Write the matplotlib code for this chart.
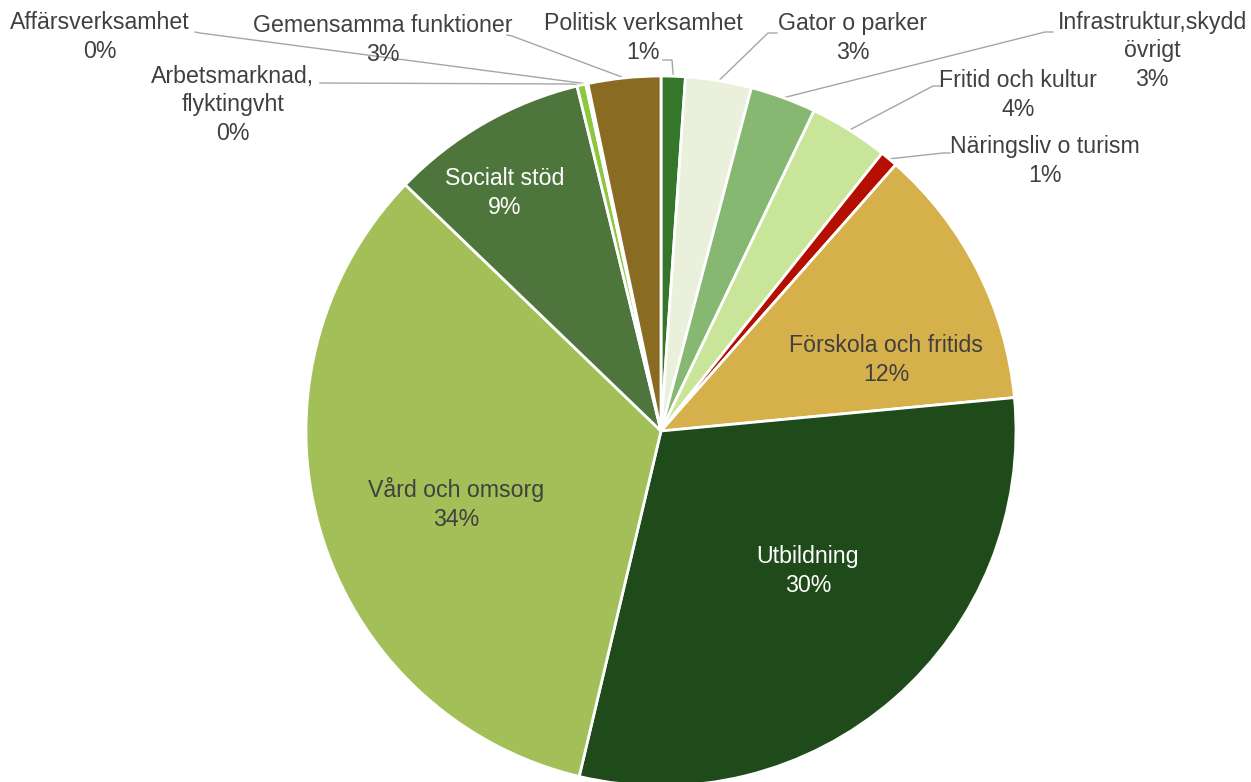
import numpy as np
import matplotlib
matplotlib.use('Agg')
import matplotlib.pyplot as plt

plt.rcParams['font.family'] = ['Liberation Sans', 'DejaVu Sans']

# Andel av kostnader per verksamhet (%), medurs från klockan 12
categories = ['Politisk verksamhet', 'Gator o parker', 'Infrastruktur,skydd\növrigt',
              'Fritid och kultur', 'Näringsliv o turism', 'Förskola och fritids',
              'Utbildning', 'Vård och omsorg', 'Socialt stöd',
              'Arbetsmarknad,\nflyktingvht', 'Affärsverksamhet', 'Gemensamma funktioner']
values = [1.1, 3.0, 3.0, 3.6, 0.8, 12.0, 30.2, 33.5, 9.0, 0.4, 0.1, 3.3]
pct_labels = ['1%', '3%', '3%', '4%', '1%', '12%', '30%', '34%', '9%', '0%', '0%', '3%']
colors = ['#34772b', '#ebf0dc', '#86b872', '#c9e59a', '#b40f00', '#d6b04a',
          '#1f4a19', '#a2bf58', '#4e763c', '#8dc63f', '#ffffff', '#8a6b22']

W, H = 1251, 782
TXT = '#404040'
LINE = '#a6a6a6'


def P(x, y):
    """pixelkoordinat (origo uppe till vänster) -> axelkoordinat"""
    return x, H - y


fig = plt.figure(figsize=(W / 100, H / 100), dpi=100)
ax = fig.add_axes([0, 0, 1, 1])

cx, cy = P(661, 431)
R = 355
wedges, _ = ax.pie(values, colors=colors, startangle=90, counterclock=False,
                   center=(cx, cy), radius=R, frame=True,
                   wedgeprops=dict(edgecolor='white', linewidth=2))
ax.set_xlim(0, W)
ax.set_ylim(0, H)
ax.axis('off')

# etiketter inne i tårtan: (textcentrum, färg)
inside = {
    5: ((886, 360), TXT),
    6: ((808, 571), 'white'),
    7: ((456, 504), TXT),
    8: ((505, 193), 'white'),
}
# etiketter utanför: (textcentrum, linjens startpunkt, knäpunkt)
outside = {
    0: ((643, 38), (663, 60), (672, 60)),
    1: ((853, 38), (777, 33), (768, 33)),
    2: ((1152, 51), (1053, 32), (1045, 32)),
    3: ((1018, 95), (940, 86), (933, 86)),
    4: ((1045, 161), (950, 153), (943, 153)),
    9: ((233, 105), (320, 83), (572, 84)),
    10: ((100, 37), (195, 32), (200, 33)),
    11: ((383, 40), (507, 35), (512, 36)),
}

for i, w in enumerate(wedges):
    text = categories[i] + '\n' + pct_labels[i]
    if i in inside:
        (tx, ty), col = inside[i]
        ax.text(*P(tx, ty), text, ha='center', va='center', color=col,
                fontsize=16.7, linespacing=1.28)
    else:
        (tx, ty), a, b = outside[i]
        ang = np.deg2rad((w.theta1 + w.theta2) / 2)
        ex, ey = cx + R * np.cos(ang), cy + R * np.sin(ang)
        xs = [P(*a)[0], P(*b)[0], ex]
        ys = [P(*a)[1], P(*b)[1], ey]
        ax.plot(xs, ys, color=LINE, lw=1, zorder=0.5)
        ax.text(*P(tx, ty), text, ha='center', va='center', color=TXT,
                fontsize=16.7, linespacing=1.28)

fig.savefig('out.png', dpi=100, facecolor='white')
